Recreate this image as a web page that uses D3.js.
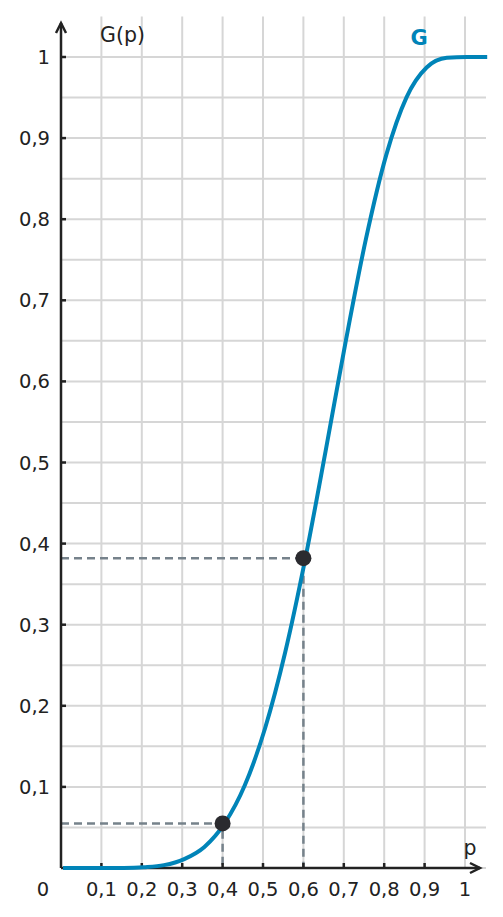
<!DOCTYPE html>
<html>
<head>
<meta charset="utf-8">
<script src="https://cdn.jsdelivr.net/npm/d3@7"></script>
<style>
  html, body { margin: 0; padding: 0; background: #fff; }
  text { font-family: "DejaVu Sans", sans-serif; fill: #222; }
</style>
</head>
<body>
<div id="chart"></div>
<script>
// values
const pValues = [0, 0.05, 0.1, 0.15, 0.2, 0.25, 0.3, 0.35, 0.4, 0.45, 0.5, 0.55, 0.6, 0.65, 0.7, 0.75, 0.8, 0.85, 0.9, 0.95, 1, 1.05];
const gValues = [0, 0, 0, 0.0001, 0.001, 0.0035, 0.011, 0.026, 0.055, 0.102, 0.172, 0.266, 0.382, 0.514, 0.65, 0.776, 0.879, 0.95, 0.987, 0.999, 1, 1];
const markedP = [0.4, 0.6];
const markedG = [0.055, 0.382];
const xTicks = [0.1, 0.2, 0.3, 0.4, 0.5, 0.6, 0.7, 0.8, 0.9, 1];
const yTicks = [0.1, 0.2, 0.3, 0.4, 0.5, 0.6, 0.7, 0.8, 0.9, 1];
const yGrid = d3.range(1, 21).map(i => i * 0.05);

const width = 503, height = 917;
const x = d3.scaleLinear().domain([0, 1]).range([61, 465]);
const y = d3.scaleLinear().domain([0, 1]).range([868, 57]);
const fmt = v => d3.format(".1f")(v).replace(".", ",").replace(",0", "");

const svg = d3.select("#chart").append("svg")
    .attr("width", width)
    .attr("height", height);

// grid
svg.append("g").selectAll("line")
    .data(xTicks)
    .enter().append("line")
    .attr("x1", d => x(d)).attr("x2", d => x(d))
    .attr("y1", y(0)).attr("y2", y(1.05))
    .attr("stroke", "#d6d6d6").attr("stroke-width", 2);

svg.append("g").selectAll("line")
    .data([0].concat(yGrid))
    .enter().append("line")
    .attr("x1", x(0)).attr("x2", x(1.052))
    .attr("y1", d => y(d)).attr("y2", d => y(d))
    .attr("stroke", "#d6d6d6").attr("stroke-width", 2);

// dashed guides
const guides = svg.append("g")
    .attr("stroke", "#76828b").attr("stroke-width", 2.5)
    .attr("stroke-dasharray", "8,5").attr("fill", "none");
markedP.forEach((p, i) => {
    guides.append("path")
        .attr("d", `M${x(0)},${y(markedG[i])}H${x(p)}V${y(0)}`);
});

// axes
const axisColor = "#222";
svg.append("line")
    .attr("x1", x(0)).attr("x2", x(0))
    .attr("y1", y(0)).attr("y2", 23)
    .attr("stroke", axisColor).attr("stroke-width", 2.5);
svg.append("path")
    .attr("d", `M${x(0) - 5},${33}L${x(0)},${23}L${x(0) + 5},${33}`)
    .attr("stroke", axisColor).attr("stroke-width", 2.5).attr("fill", "none");
svg.append("line")
    .attr("x1", x(0)).attr("x2", 480)
    .attr("y1", y(0)).attr("y2", y(0))
    .attr("stroke", axisColor).attr("stroke-width", 2.5);
svg.append("path")
    .attr("d", `M${470},${y(0) - 5}L${480},${y(0)}L${470},${y(0) + 5}`)
    .attr("stroke", axisColor).attr("stroke-width", 2.5).attr("fill", "none");

// ticks
svg.append("g").selectAll("line")
    .data(yTicks)
    .enter().append("line")
    .attr("x1", x(0)).attr("x2", x(0) + 5)
    .attr("y1", d => y(d)).attr("y2", d => y(d))
    .attr("stroke", axisColor).attr("stroke-width", 2.5);
svg.append("g").selectAll("line")
    .data(xTicks.slice(0, -1))
    .enter().append("line")
    .attr("x1", d => x(d)).attr("x2", d => x(d))
    .attr("y1", y(0)).attr("y2", y(0) - 5)
    .attr("stroke", axisColor).attr("stroke-width", 2.5);

// tick labels
svg.append("g").selectAll("text")
    .data(yTicks)
    .enter().append("text")
    .attr("x", 50).attr("y", d => y(d) + 7)
    .attr("text-anchor", "end")
    .attr("font-size", 19.5)
    .text(fmt);
svg.append("g").selectAll("text")
    .data(xTicks)
    .enter().append("text")
    .attr("x", d => x(d)).attr("y", 896)
    .attr("text-anchor", "middle")
    .attr("font-size", 19.5)
    .text(fmt);
svg.append("text").attr("x", 43).attr("y", 896)
    .attr("text-anchor", "middle").attr("font-size", 19.5).text("0");

svg.append("text").attr("x", 100).attr("y", 42)
    .attr("font-size", 20.5).text("G(p)");
svg.append("text").attr("x", 470).attr("y", 855)
    .attr("text-anchor", "middle").attr("font-size", 20.5).text("p");

// curve
const line = d3.line()
    .x((d, i) => x(pValues[i]) + 2)
    .y(d => y(d))
    .curve(d3.curveMonotoneX);
svg.append("path")
    .datum(gValues)
    .attr("d", line)
    .attr("fill", "none")
    .attr("stroke", "#0084b8")
    .attr("stroke-width", 4);

svg.append("text").attr("x", 419).attr("y", 45)
    .attr("text-anchor", "middle")
    .attr("font-size", 21).attr("font-weight", "bold")
    .style("fill", "#0084b8")
    .text("G");

// marked points
svg.append("g").selectAll("circle")
    .data(markedP)
    .enter().append("circle")
    .attr("cx", d => x(d))
    .attr("cy", (d, i) => y(markedG[i]))
    .attr("r", 8)
    .attr("fill", "#2b2b2f");
</script>
</body>
</html>
